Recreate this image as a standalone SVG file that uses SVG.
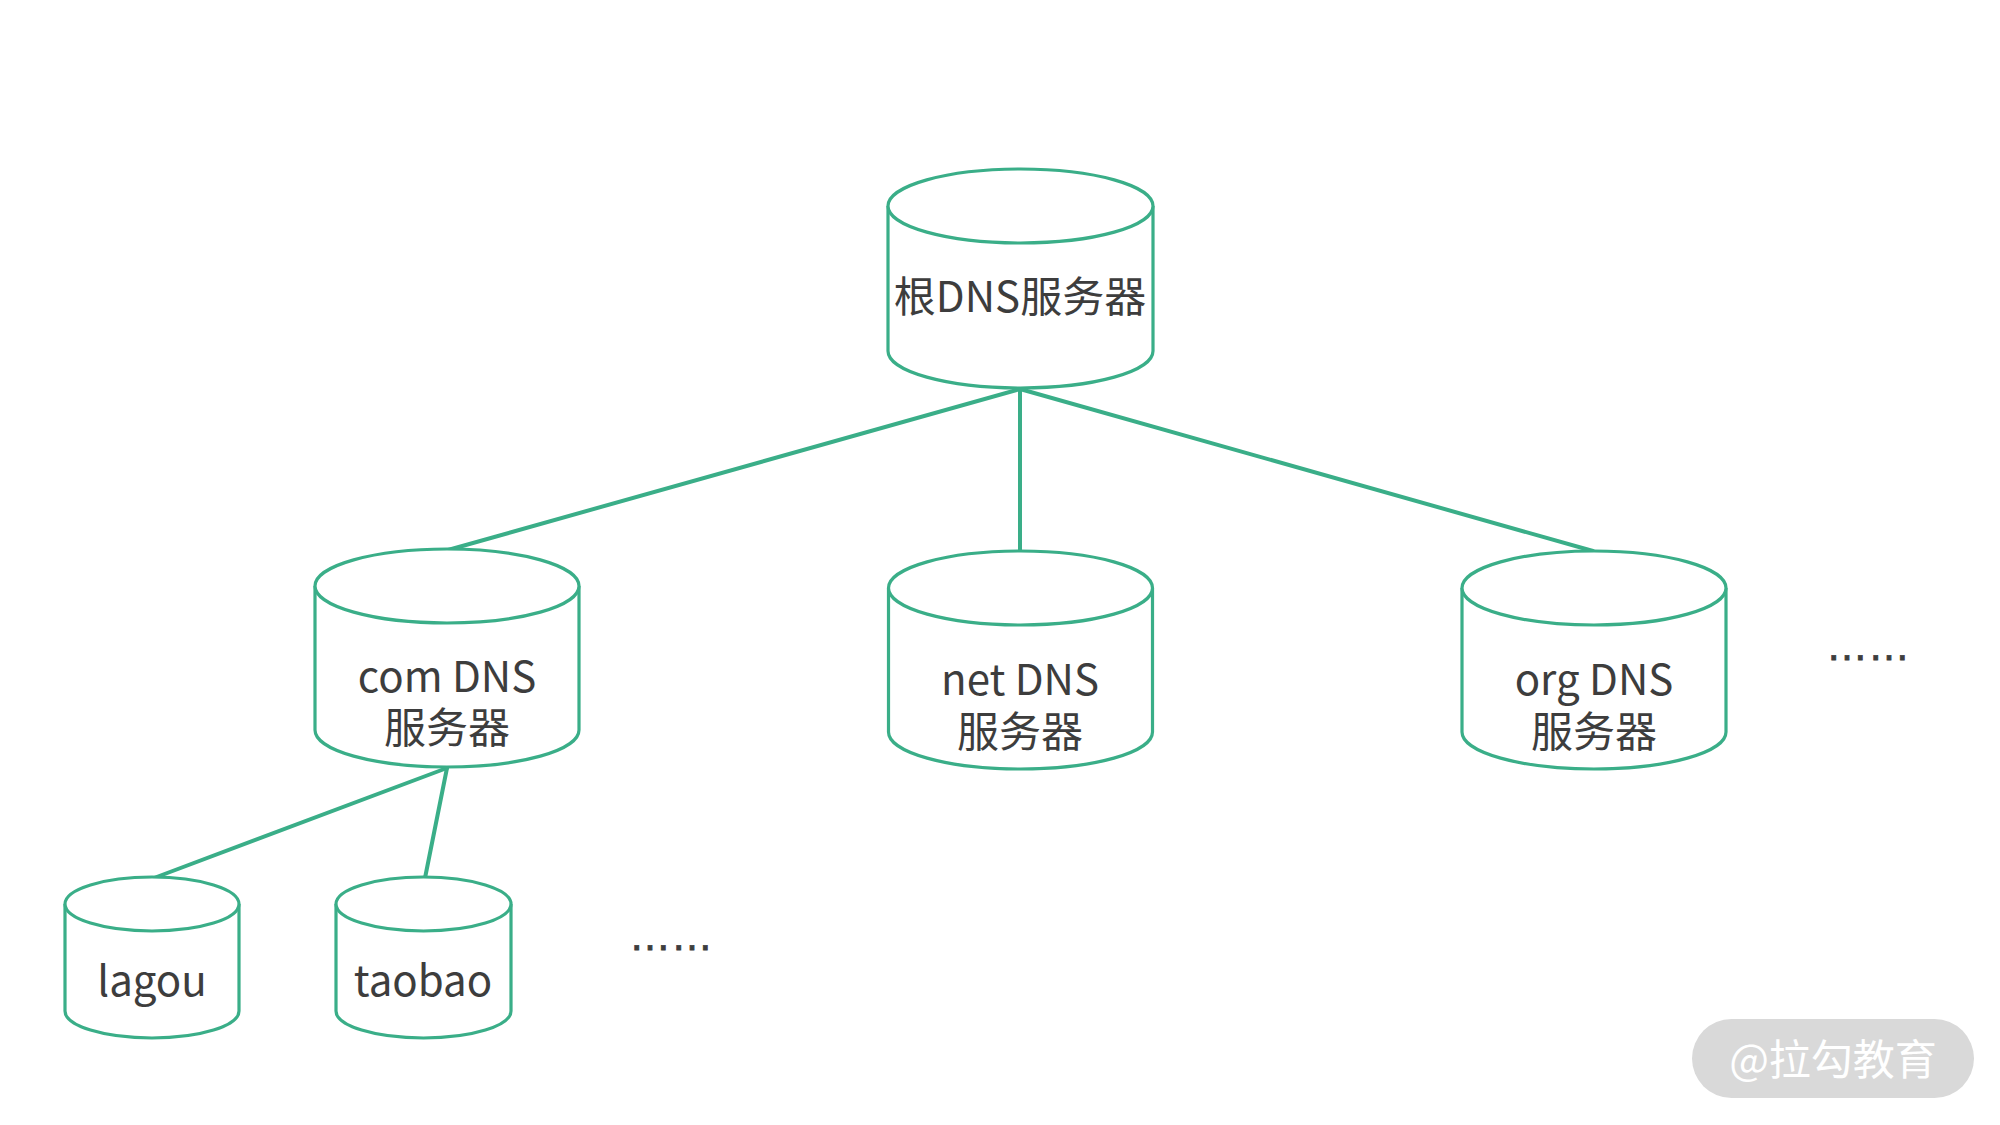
<svg xmlns="http://www.w3.org/2000/svg" width="2000" height="1125" viewBox="0 0 2000 1125">
<style>
.cyl{fill:#fff;stroke:#3aae88;stroke-width:3.2}
.lnk{stroke:#3aae88;stroke-width:4;fill:none;stroke-linecap:round}
.t{font-family:"Noto Sans CJK SC","Noto Sans",sans-serif;font-size:42px;fill:#3d3d3d;text-anchor:middle}
.dots{font-family:"Liberation Sans",Arial,sans-serif;font-size:42px;fill:#3d3d3d;stroke:#3d3d3d;stroke-width:0.8}
.wm{font-family:"Noto Sans CJK SC",sans-serif;font-size:42px;fill:#fff;text-anchor:middle}
</style>
<rect width="2000" height="1125" fill="#fff"/>
<g id="connectors">
<line class="lnk" x1="1020" y1="389" x2="448" y2="550"/>
<line class="lnk" x1="1020" y1="389" x2="1020" y2="551"/>
<line class="lnk" x1="1020" y1="389" x2="1593" y2="551"/>
<line class="lnk" x1="447" y1="768" x2="154" y2="878"/>
<line class="lnk" x1="447" y1="768" x2="425" y2="878"/>
</g>
<g id="root">
<path class="cyl" d="M888,206 L888,351 A132.5,37 0 0 0 1153,351 L1153,206"/>
<ellipse class="cyl" cx="1020.5" cy="206" rx="132.5" ry="37"/>
<text class="t" x="1020" y="312">根DNS服务器</text>
</g>
<g id="com">
<path class="cyl" d="M315,586 L315,730 A132,37 0 0 0 579,730 L579,586"/>
<ellipse class="cyl" cx="447" cy="586" rx="132" ry="37"/>
<text class="t" x="447" y="692">com DNS<tspan x="447" y="743">服务器</tspan></text>
</g>
<g id="net">
<path class="cyl" d="M888.5,588 L888.5,732 A132,37 0 0 0 1152.5,732 L1152.5,588"/>
<ellipse class="cyl" cx="1020.5" cy="588" rx="132" ry="37"/>
<text class="t" x="1020" y="695">net DNS<tspan x="1020" y="747">服务器</tspan></text>
</g>
<g id="org">
<path class="cyl" d="M1462,588 L1462,732 A132,37 0 0 0 1726,732 L1726,588"/>
<ellipse class="cyl" cx="1594" cy="588" rx="132" ry="37"/>
<text class="t" x="1594" y="695">org DNS<tspan x="1594" y="747">服务器</tspan></text>
</g>
<g id="more-tld">
<text class="dots" x="1826" y="660">……</text>
</g>
<g id="lagou">
<path class="cyl" d="M65,904 L65,1011 A87,27 0 0 0 239,1011 L239,904"/>
<ellipse class="cyl" cx="152" cy="904" rx="87" ry="27"/>
<text class="t" x="152" y="996">lagou</text>
</g>
<g id="taobao">
<path class="cyl" d="M336,904 L336,1011 A87.5,27 0 0 0 511,1011 L511,904"/>
<ellipse class="cyl" cx="423.5" cy="904" rx="87.5" ry="27"/>
<text class="t" x="423" y="996">taobao</text>
</g>
<g id="more-sld">
<text class="dots" x="629" y="950">……</text>
</g>
<g id="watermark">
<rect x="1692" y="1019" width="282" height="79" rx="39.5" fill="#d9d9d9"/>
<text class="wm" x="1833" y="1075">@拉勾教育</text>
</g>
</svg>
